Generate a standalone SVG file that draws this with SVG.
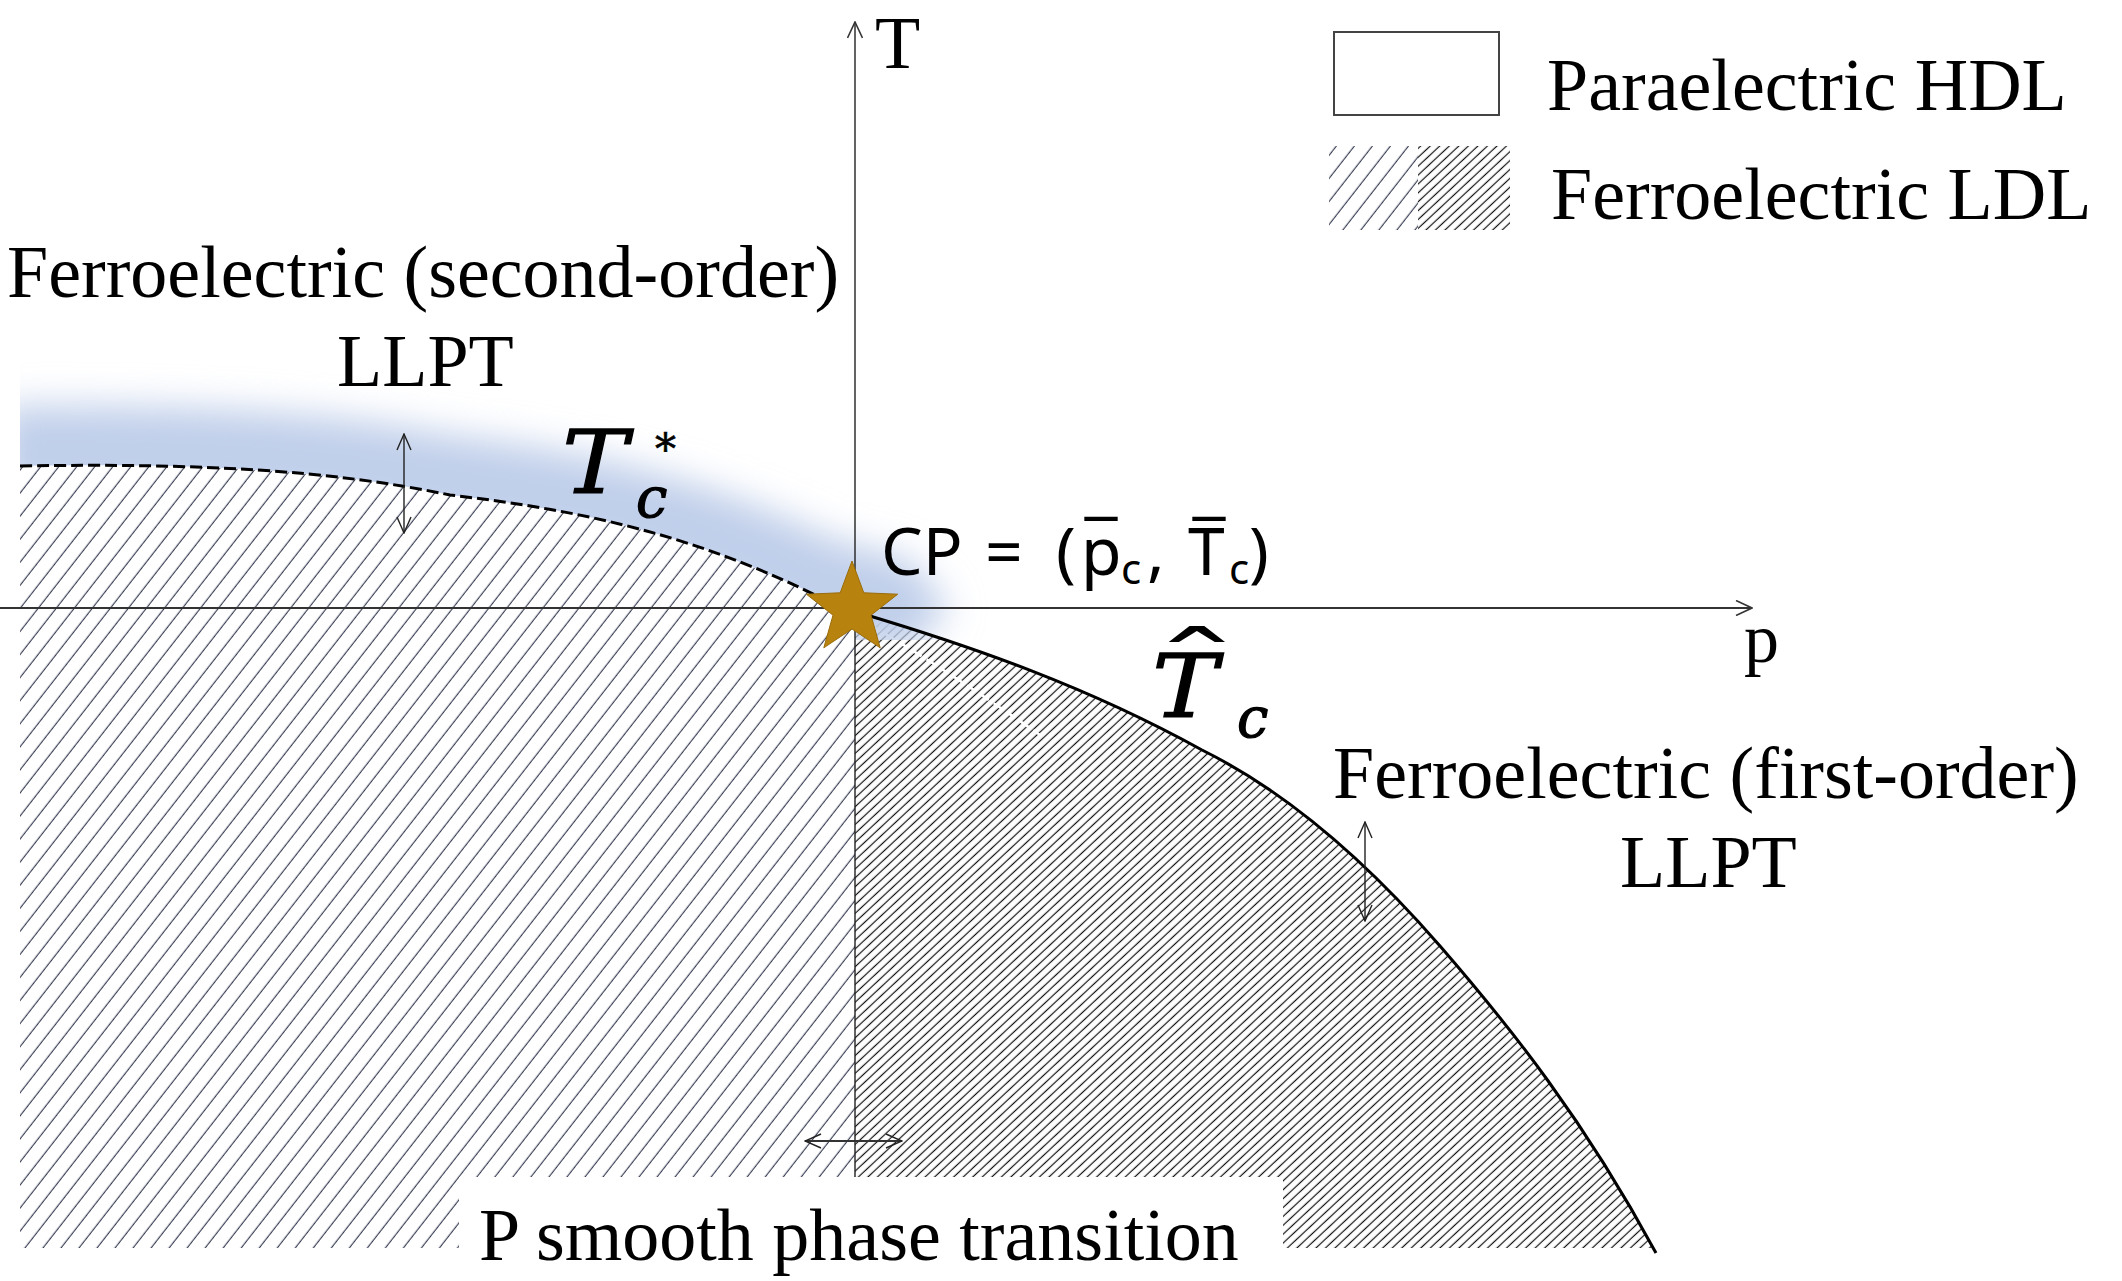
<svg xmlns="http://www.w3.org/2000/svg" width="2122" height="1281" viewBox="0 0 2122 1281">
  <style>
    .serif { font-family: "Liberation Serif", "Times New Roman", serif; font-size: 74px; fill: #000; }
    .math { font-family: "DejaVu Serif", "Liberation Serif", serif; font-style: italic; fill: #000; stroke: #000; stroke-width: 1.2; }
    .sans { font-family: "Noto Sans", "Open Sans", "DejaVu Sans", sans-serif; fill: #000; }
    .axis { stroke: #333; stroke-width: 1.8; fill: none; }
    .dbl { stroke: #222; stroke-width: 1.4; fill: none; }
  </style>
  <defs>
    <pattern id="hatchL" patternUnits="userSpaceOnUse" width="30" height="14.2" patternTransform="rotate(-52)">
      <line x1="-1" y1="7" x2="31" y2="7" stroke="#3b4056" stroke-width="1.2"/>
    </pattern>
    <pattern id="hatchR" patternUnits="userSpaceOnUse" width="30" height="6.5" patternTransform="rotate(-43)">
      <line x1="-1" y1="3.2" x2="31" y2="3.2" stroke="#111" stroke-width="1.2"/>
    </pattern>
    <marker id="axHead" viewBox="0 0 18 16" refX="17" refY="8" markerWidth="18" markerHeight="16" markerUnits="userSpaceOnUse" orient="auto-start-reverse">
      <path d="M1,0.5 L17,8 L1,15.5" fill="none" stroke="#333" stroke-width="1.6"/>
    </marker>
    <marker id="dHead" viewBox="0 0 18 16" refX="17" refY="8" markerWidth="18" markerHeight="16" markerUnits="userSpaceOnUse" orient="auto-start-reverse">
      <path d="M1,1 L17,8 L1,15" fill="none" stroke="#222" stroke-width="1.4"/>
    </marker>
    <filter id="blur" x="-20%" y="-50%" width="140%" height="200%">
      <feGaussianBlur stdDeviation="18"/>
    </filter>
    <clipPath id="glowClip">
      <path d="M20,300 L1000,300 L1000,640 L855,640 L855,609 L835,605 C700,535 580,510 450,495 C330,470 200,463 20,466 Z"/>
    </clipPath>
    <linearGradient id="axisBlue" x1="0" y1="0" x2="1" y2="0">
      <stop offset="0" stop-color="#b3c5e6" stop-opacity="0"/>
      <stop offset="1" stop-color="#b3c5e6" stop-opacity="1"/>
    </linearGradient>
  </defs>
  <rect x="0" y="0" width="2122" height="1281" fill="#fff"/>

  <!-- hatched regions -->
  <g id="ferro-regions">
    <path id="region-left-upper" fill="url(#hatchL)" d="M20,466 C200,463 330,470 450,495 C580,510 700,535 835,605 L852,609 L20,609 Z"/>
    <path id="region-left-lower" fill="url(#hatchL)" d="M20,609 L855,609 L855,1177 L459,1177 L459,1248 L20,1248 Z"/>
    <path id="region-right" fill="url(#hatchR)" d="M855,609 L860,613 C974,647 1088,687 1202,750 C1281,789 1361,855 1440,946 C1512,1029 1584,1120 1653,1248 L1283,1248 L1283,1177 L855,1177 Z"/>
    <path id="white-dash" d="M872,626 C930,660 990,700 1040,735" fill="none" stroke="#fff" stroke-width="2.5" stroke-dasharray="10 6"/>
  </g>

  <!-- blue glow along second-order line -->
  <g id="glow" clip-path="url(#glowClip)">
    <path filter="url(#blur)" fill="#c0cfea" d="M0,496 C200,493 330,500 450,525 C580,540 700,565 835,640 L900,655 L950,610 L910,560 L835,540 C700,475 580,450 450,435 C330,412 200,404 0,406 Z"/>
  </g>
  <line x1="380" y1="611" x2="845" y2="611" stroke="url(#axisBlue)" stroke-width="5"/>

  <!-- connectors: axes, phase boundaries, arrows -->
  <g id="connectors">
    <line id="p-axis" class="axis" x1="0" y1="608" x2="1752" y2="608" marker-end="url(#axHead)"/>
    <line id="T-axis" x1="855" y1="1177" x2="855" y2="22" stroke="#222" stroke-width="1.4" marker-end="url(#axHead)"/>
    <path id="Tc-star-line" d="M20,466 C200,463 330,470 450,495 C580,510 700,535 835,605" fill="none" stroke="#000" stroke-width="3" stroke-dasharray="12 5"/>
    <path id="Tc-hat-line" d="M860,613 C974,647 1088,687 1202,750 C1281,789 1361,855 1440,946 C1512,1029 1584,1120 1656,1253" fill="none" stroke="#000" stroke-width="3"/>
    <line id="arrow-left" class="dbl" x1="404" y1="434" x2="404" y2="533" marker-start="url(#dHead)" marker-end="url(#dHead)"/>
    <line id="arrow-right" class="dbl" x1="1365" y1="822" x2="1365" y2="921" marker-start="url(#dHead)" marker-end="url(#dHead)"/>
    <line id="arrow-bottom" x1="805" y1="1141" x2="902" y2="1141" stroke="#333" stroke-width="2" marker-start="url(#dHead)" marker-end="url(#dHead)"/>
  </g>

  <!-- critical point -->
  <g id="critical-point">
    <polygon points="852,561 863.8,592.8 897.7,594.2 871,615.2 880.2,647.8 852,629 823.8,647.8 833,615.2 806.4,594.2 840.2,592.8" fill="#b8820f" stroke="#9a6c0a" stroke-width="1"/>
  </g>

  <!-- axis labels -->
  <g id="axis-labels">
    <text class="serif" x="875" y="68">T</text>
    <text class="serif" x="1744" y="662" style="font-size:70px">p</text>
  </g>

  <!-- curve labels -->
  <g id="label-Tc-star">
    <text class="math" transform="translate(562,493) scale(1.12,1)" style="font-size:88px">T</text>
    <text class="math" x="636" y="517" style="font-size:56px">c</text>
    <text class="math" x="655" y="464" style="font-size:42px;font-style:normal;stroke-width:0.6">*</text>
  </g>
  <g id="label-Tc-hat">
    <text class="math" transform="translate(1152,717) scale(1.12,1)" style="font-size:88px">T</text>
    <text class="math" x="1237" y="737" style="font-size:56px">c</text>
    <text font-family="DejaVu Serif, serif" font-size="86" text-anchor="middle" transform="translate(1197,695) scale(2.1,1)">ˆ</text>
  </g>
  <g id="label-CP">
    <text class="sans" y="575" style="font-size:66px">
      <tspan x="881">CP</tspan><tspan x="985">=</tspan><tspan x="1056">(</tspan><tspan x="1081">p</tspan><tspan x="1121" dy="9" style="font-size:42px">c</tspan><tspan x="1147" dy="-9">,</tspan><tspan x="1188">T</tspan><tspan x="1229" dy="9" style="font-size:42px">c</tspan><tspan x="1249" dy="-9">)</tspan><tspan x="1101" y="571" text-anchor="middle">¯</tspan><tspan x="1209" y="571" text-anchor="middle">¯</tspan>
    </text>
  </g>

  <!-- region labels -->
  <g id="label-second-order">
    <text class="serif" x="7" y="297">Ferroelectric (second-order)</text>
    <text class="serif" x="337" y="386">LLPT</text>
  </g>
  <g id="label-first-order">
    <text class="serif" x="1333" y="798">Ferroelectric (first-order)</text>
    <text class="serif" x="1620" y="887">LLPT</text>
  </g>
  <g id="label-smooth">
    <text class="serif" x="479" y="1260">P smooth phase transition</text>
  </g>

  <!-- legend -->
  <g id="legend-paraelectric">
    <rect x="1334" y="32" width="165" height="83" fill="#fff" stroke="#444" stroke-width="2"/>
    <text class="serif" x="1547" y="110">Paraelectric HDL</text>
  </g>
  <g id="legend-ferroelectric">
    <rect x="1329" y="146" width="89" height="84" fill="url(#hatchL)"/>
    <rect x="1418" y="146" width="92" height="84" fill="url(#hatchR)"/>
    <text class="serif" x="1551" y="219">Ferroelectric LDL</text>
  </g>
</svg>
